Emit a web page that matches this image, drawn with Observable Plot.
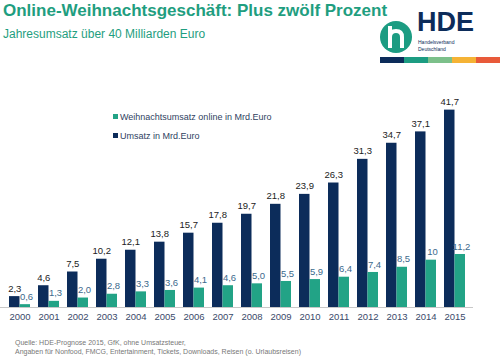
<!DOCTYPE html>
<html>
<head>
<meta charset="utf-8">
<script src="https://cdn.jsdelivr.net/npm/d3@7"></script>
<script src="https://cdn.jsdelivr.net/npm/@observablehq/plot@0.6"></script>
<style>
  html, body { margin: 0; padding: 0; background: #fff; }
  #wrap { position: relative; width: 500px; height: 360px; overflow: hidden; font-family: "Liberation Sans", Arial, sans-serif; }
  .abs { position: absolute; white-space: nowrap; }
  #title { left: 3px; top: 1px; font-size: 17px; font-weight: bold; color: #1f9e80; }
  #subtitle { left: 3px; top: 27px; font-size: 12px; color: #1f9e80; }
  .leg { font-size: 9px; color: #2f3f5f; }
  .sw { display: inline-block; width: 5px; height: 5px; margin-right: 2px; vertical-align: 1px; }
  #foot { left: 15px; top: 338px; font-size: 7px; color: #777; line-height: 9px; }
  #chart { position: absolute; left: 0; top: 0; }
  #logo { position: absolute; left: 378px; top: 6px; }
</style>
</head>
<body>
<div id="wrap">
  <div id="chart"></div>
  <div class="abs" id="title">Online-Weihnachtsgeschäft: Plus zwölf Prozent</div>
  <div class="abs" id="subtitle">Jahresumsatz über 40 Milliarden Euro</div>
  <div class="abs leg" style="left:113px; top:112px;"><span class="sw" style="background:#22a386"></span>Weihnachtsumsatz online in Mrd.Euro</div>
  <div class="abs leg" style="left:113px; top:131px;"><span class="sw" style="background:#0c2c5a"></span>Umsatz in Mrd.Euro</div>
  <div class="abs" id="foot">Quelle: HDE-Prognose 2015, GfK, ohne Umsatzsteuer,<br>Angaben für Nonfood, FMCG, Entertainment, Tickets, Downloads, Reisen (o. Urlaubsreisen)</div>
  <svg id="logo" width="122" height="58" viewBox="0 0 122 58">
    <circle cx="18" cy="31" r="16" fill="#1c9c82"/>
    <path d="M12 20 L12 42 M12 31 Q12 25 18 25 Q24 25 24 31 L24 42" stroke="#fff" stroke-width="4" fill="none"/>
    <text x="39" y="25" font-family="Liberation Sans, Arial" font-weight="bold" font-size="27" fill="#0c2c5a">HDE</text>
    <text x="40" y="38" font-family="Liberation Sans, Arial" font-size="5" fill="#0c2c5a">Handelsverband</text>
    <text x="40" y="45" font-family="Liberation Sans, Arial" font-size="5" fill="#0c2c5a">Deutschland</text>
    <rect x="2" y="51" width="24" height="6" fill="#0c2c5a"/>
    <rect x="26" y="51" width="24" height="6" fill="#1c9c82"/>
    <rect x="50" y="51" width="24" height="6" fill="#7cc08a"/>
    <rect x="74" y="51" width="24" height="6" fill="#f5b335"/>
    <rect x="98" y="51" width="24" height="6" fill="#e85a3a"/>
  </svg>
</div>
<script>
const years = ["2000","2001","2002","2003","2004","2005","2006","2007","2008","2009","2010","2011","2012","2013","2014","2015"];
const umsatz = [2.3, 4.6, 7.5, 10.2, 12.1, 13.8, 15.7, 17.8, 19.7, 21.8, 23.9, 26.3, 31.3, 34.7, 37.1, 41.7];
const online = [0.6, 1.3, 2.0, 2.8, 3.3, 3.6, 4.1, 4.6, 5.0, 5.5, 5.9, 6.4, 7.4, 8.5, 10, 11.2];

const fmt = v => (Number.isInteger(v) && v >= 10) ? String(v) : v.toFixed(1).replace(".", ",");
const dataU = years.map((y, i) => ({year: y, value: umsatz[i]}));
const dataO = years.map((y, i) => ({year: y, value: online[i]}));

const navy = "#0c2c5a", green = "#22a386";

const plot = Plot.plot({
  width: 500,
  height: 330,
  marginLeft: 0,
  marginRight: 27,
  marginTop: 94,
  marginBottom: 23,
  style: {fontFamily: "Liberation Sans, Arial, sans-serif", background: "transparent"},
  x: {domain: years, padding: 0.28, label: null, tickSize: 0, tickPadding: 6},
  y: {domain: [0, 45], axis: null},
  marks: [
    Plot.barY(dataU, {x: "year", y: "value", fill: navy, insetRight: 10.5}),
    Plot.barY(dataO, {x: "year", y: "value", fill: green, insetLeft: 10.5}),
    Plot.text(dataU, {x: "year", y: "value", text: d => fmt(d.value), dx: -5.2, dy: -8, fontSize: 9.5, fill: "#222"}),
    Plot.text(dataO, {x: "year", y: "value", text: d => fmt(d.value), dx: 6.5, dy: -8, fontSize: 9.5, fill: "#3c6a8c"}),
    Plot.ruleY([0], {stroke: "#c8c8c8"}),
    Plot.axisX({domain: years, tickSize: 0, tickPadding: 6, fontSize: 9.5, fill: "#3a4a6a", label: null})
  ]
});
document.getElementById("chart").appendChild(plot);
</script>
</body>
</html>
